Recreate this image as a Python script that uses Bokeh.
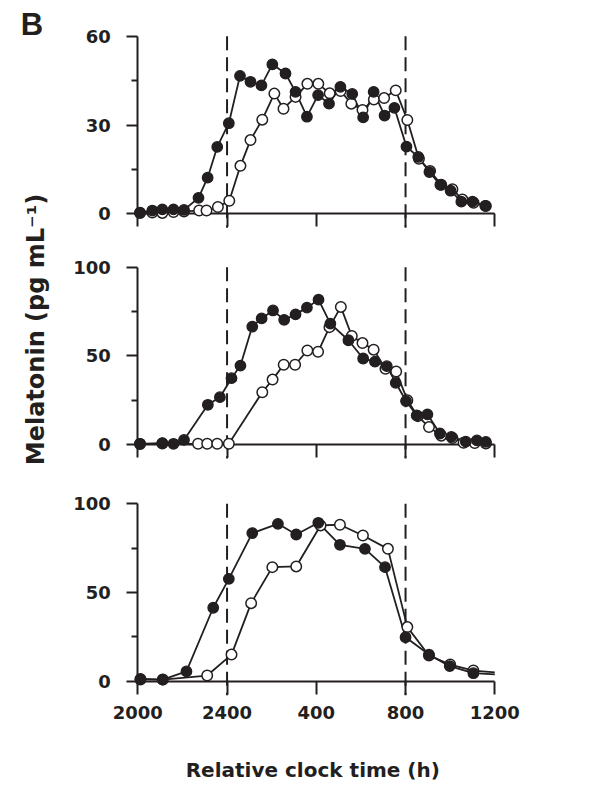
import math
from bokeh.plotting import figure
from bokeh.models import Range1d, LinearAxis, FixedTicker, Label
from bokeh.layouts import row, column
from bokeh.embed import file_html
from bokeh.resources import INLINE

# ---------------- data (hours after 2000 h, melatonin pg/mL) ----------------
tick_hours = [0, 4, 8, 12, 16]
tick_labels = ["2000", "2400", "400", "800", "1200"]
light_marks = [4, 12]

# panel 1 (top)
filled_x1 = [0.1, 0.65, 1.1, 1.6, 2.07, 2.72, 3.13, 3.56, 4.08, 4.58, 5.05, 5.54, 6.03, 6.62,
             7.07, 7.58, 8.08, 8.57, 9.08, 9.61, 10.1, 10.57, 11.06, 11.5, 12.04, 12.57, 13.07,
             13.56, 14.02, 14.5, 15.0, 15.57]
filled_y1 = [0.4, 1.1, 1.5, 1.5, 1.3, 5.4, 12.2, 22.6, 30.6, 46.6, 44.6, 43.4, 50.5, 47.4,
             41.2, 32.8, 40.1, 37.2, 42.9, 40.5, 32.6, 41.2, 33.2, 35.8, 22.7, 19.2, 14.1,
             9.8, 7.8, 4.1, 4.1, 2.7]
open_x1 = [0.1, 0.65, 1.1, 1.6, 2.07, 2.75, 3.08, 3.59, 4.1, 4.6, 5.05, 5.58, 6.12, 6.53,
           7.07, 7.6, 8.09, 8.6, 9.09, 9.57, 10.07, 10.58, 11.04, 11.56, 12.08, 12.6, 13.1,
           13.6, 14.1, 14.55, 15.05, 15.6]
open_y1 = [0.3, 0.4, 0.3, 0.6, 0.8, 1.1, 1.1, 2.3, 4.4, 16.2, 24.9, 31.8, 40.6, 35.5,
           39.5, 43.9, 43.9, 40.7, 41.5, 37.2, 35.1, 38.6, 39.1, 41.7, 31.7, 18.6, 14.5,
           9.8, 8.3, 4.8, 3.7, 2.6]

# panel 2 (middle)
filled_x2 = [0.1, 1.1, 1.6, 2.07, 3.14, 3.68, 4.2, 4.6, 5.13, 5.55, 6.06, 6.56, 7.07, 7.58,
             8.1, 8.63, 9.44, 10.1, 10.63, 11.16, 11.56, 12.02, 12.5, 12.98, 13.54, 14.05,
             14.7, 15.2, 15.6]
filled_y2 = [0.4, 0.8, 0.4, 2.6, 22.4, 26.7, 37.4, 44.5, 66.5, 71.1, 75.6, 70.3, 73.4, 77.2,
             81.7, 68.2, 58.8, 48.5, 46.7, 44.2, 34.8, 24.5, 16.4, 17.0, 6.2, 4.3,
             1.6, 2.3, 1.5]
open_x2 = [0.1, 1.1, 2.7, 3.11, 3.56, 4.08, 5.58, 6.04, 6.54, 7.05, 7.6, 8.08, 8.59, 9.1,
           9.59, 10.07, 10.57, 11.1, 11.58, 12.08, 12.55, 13.05, 13.6, 14.1, 14.6, 15.1, 15.6]
open_y2 = [0.3, 0.5, 0.4, 0.4, 0.4, 0.4, 29.5, 36.6, 45.0, 45.0, 53.0, 52.3, 66.2, 77.6,
           61.2, 57.2, 53.5, 42.7, 41.2, 25.0, 16.0, 9.8, 5.0, 3.6, 1.0, 0.8, 0.6]

# panel 3 (bottom)
filled_x3 = [0.12, 1.12, 2.18, 3.38, 4.08, 5.13, 6.28, 7.1, 8.09, 9.06, 10.18, 11.08, 12.0,
             13.05, 13.98, 15.04, 16.0]
filled_y3 = [1.3, 0.9, 5.5, 41.4, 57.7, 83.5, 88.7, 82.7, 89.3, 76.9, 74.6, 64.3, 24.8,
             15.0, 8.5, 4.5, 3.8]
open_x3 = [0.12, 1.12, 3.11, 4.2, 5.08, 6.03, 7.1, 8.19, 9.06, 10.09, 11.21, 12.08, 13.05,
           14.0, 15.04, 16.0]
open_y3 = [1.0, 0.9, 3.2, 15.0, 44.0, 64.3, 64.7, 87.8, 88.2, 82.1, 74.6, 30.5, 14.5,
           9.4, 6.0, 5.0]

INK = "#231f20"
FONT = "DejaVu Sans"

# ---------------- layout (page pixels) ----------------
LAB_W = 56
PANEL_W = 542
X0_PX, X16_PX = 137.3, 494.3          # pixel of 2000 h and of 1200 h
SX = (X16_PX - X0_PX) / 16.0


def x_range():
    return Range1d((LAB_W - X0_PX) / SX, (LAB_W + PANEL_W - X0_PX) / SX)


def y_range(top_px, bottom_px, ymax_px, zero_px, ymax):
    s = (zero_px - ymax_px) / ymax
    return Range1d(-(bottom_px - zero_px) / s, ymax + (ymax_px - top_px) / s), s


def panel(top_px, bottom_px, ymax_px, zero_px, ymax, major, minor, show_labels,
          fx, fy, ox, oy, n_markers=None):
    yr, s = y_range(top_px, bottom_px, ymax_px, zero_px, ymax)
    p = figure(width=PANEL_W, height=int(bottom_px - top_px), x_range=x_range(),
               y_range=yr, output_backend="svg", toolbar_location=None,
               x_axis_location=None, y_axis_location=None, min_border=0)
    p.outline_line_color = None
    p.grid.visible = False

    yaxis = LinearAxis(fixed_location=0, bounds=(0, ymax),
                       ticker=FixedTicker(ticks=major, minor_ticks=minor))
    if show_labels:
        xticker = FixedTicker(ticks=tick_hours, minor_ticks=[])
    else:
        xticker = FixedTicker(ticks=[], minor_ticks=tick_hours)
    xaxis = LinearAxis(fixed_location=0, bounds=(0, 16), ticker=xticker,
                       major_label_overrides=dict(zip(tick_hours, tick_labels)))
    for ax in (xaxis, yaxis):
        ax.level = "underlay"
        ax.axis_line_width = 2
        ax.axis_line_color = INK
        ax.major_tick_line_width = 2
        ax.major_tick_line_color = INK
        ax.minor_tick_line_width = 2
        ax.minor_tick_line_color = INK
        ax.major_tick_in = 0
        ax.minor_tick_in = 0
        ax.major_label_text_font = FONT
        ax.major_label_text_font_style = "bold"
        ax.major_label_text_font_size = "18px"
        ax.major_label_text_color = INK
    yaxis.major_tick_out = 11
    yaxis.minor_tick_out = 6
    yaxis.major_label_standoff = 16
    xaxis.major_tick_out = 13
    xaxis.minor_tick_out = 13 if not show_labels else 0
    xaxis.major_label_standoff = 12
    p.add_layout(yaxis, "left")
    p.add_layout(xaxis, "below")

    low = -14.0 / s
    p.segment(x0=light_marks, y0=[ymax] * len(light_marks), x1=light_marks,
              y1=[low] * len(light_marks), line_color=INK, line_width=2, line_dash="14 7")

    p.line(ox, oy, line_color=INK, line_width=1.8)
    p.line(fx, fy, line_color=INK, line_width=1.8)
    n_o = len(ox) if n_markers is None else n_markers[0]
    n_f = len(fx) if n_markers is None else n_markers[1]
    p.scatter(ox[:n_o], oy[:n_o], marker="circle", size=10.5, fill_color="white",
              line_color=INK, line_width=1.5)
    p.scatter(fx[:n_f], fy[:n_f], marker="circle", size=10.5, fill_color=INK,
              line_color=INK, line_width=1.3)
    return p, s


p1, s1 = panel(0, 240, 35.7, 213.3, 60, [0, 30, 60], [15, 45], False,
               filled_x1, filled_y1, open_x1, open_y1)
p2, s2 = panel(240, 475, 266.7, 444.0, 100, [0, 50, 100], [25, 75], False,
               filled_x2, filled_y2, open_x2, open_y2)
p3, s3 = panel(475, 786, 503.3, 680.7, 100, [0, 50, 100], [25, 75], True,
               filled_x3, filled_y3, open_x3, open_y3,
               n_markers=(len(open_x3) - 1, len(filled_x3) - 1))

p3.add_layout(Label(x=(312.3 - X0_PX) / SX, y=-(769.0 - 680.7) / s3,
                    text="Relative clock time (h)", text_align="center",
                    text_baseline="middle", text_font=FONT, text_font_style="bold",
                    text_font_size="20px", text_color=INK))

lab = figure(width=LAB_W, height=786, x_range=Range1d(0, LAB_W), y_range=Range1d(786, 0),
             output_backend="svg", toolbar_location=None,
             x_axis_location=None, y_axis_location=None, min_border=0)
lab.outline_line_color = None
lab.grid.visible = False
lab.add_layout(Label(x=35, y=329, text="Melatonin (pg mL\u207b\u00b9)", angle=math.pi / 2,
                     text_align="center", text_baseline="middle", text_font=FONT,
                     text_font_style="bold", text_font_size="24px", text_color=INK))
lab.add_layout(Label(x=31.5, y=23.5, text="B", text_align="center", text_baseline="middle",
                     text_font="Liberation Sans", text_font_style="bold",
                     text_font_size="31px", text_color=INK))

layout = row(lab, column(p1, p2, p3))
open("out.html", "w").write(file_html(layout, INLINE))
